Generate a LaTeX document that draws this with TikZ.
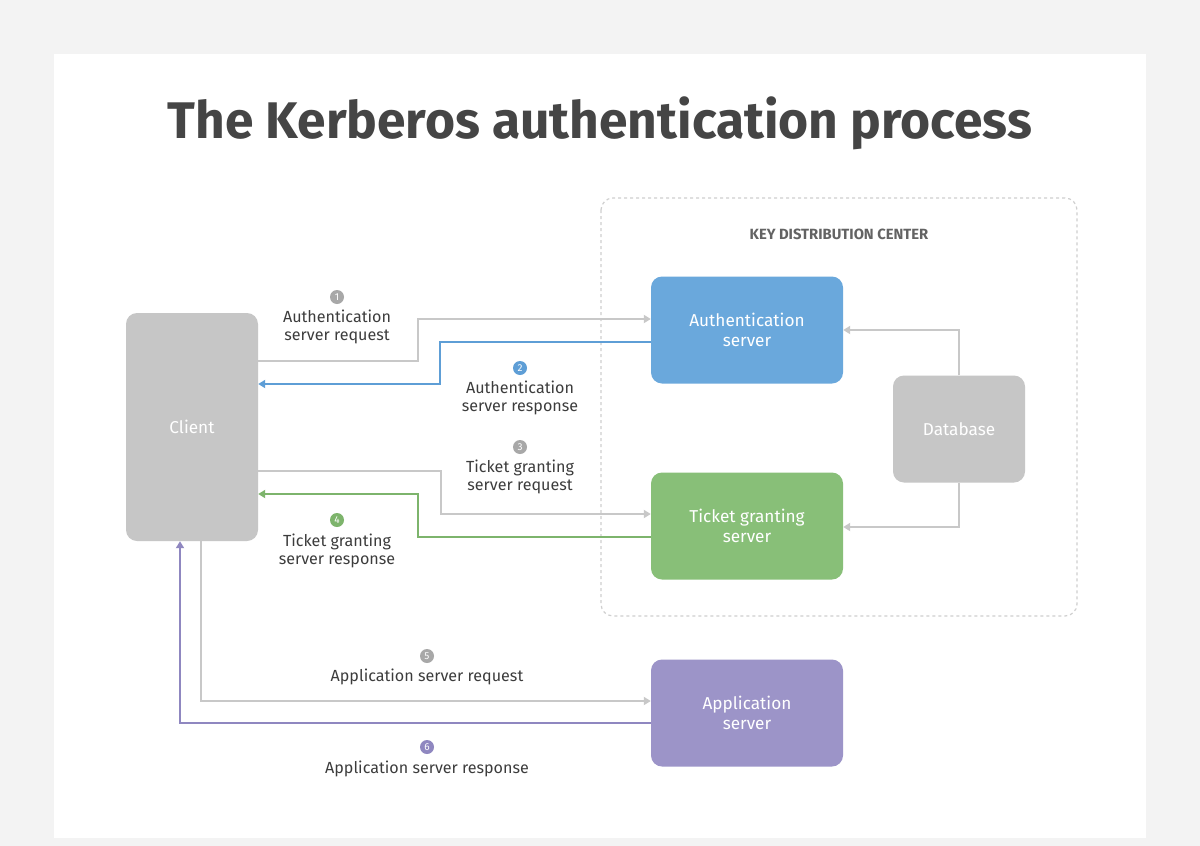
\documentclass[tikz,border=0pt]{standalone}
\usepackage{fontspec}
\setmainfont{Fira Sans}
\usetikzlibrary{arrows.meta}
\definecolor{bgc}{HTML}{F3F3F3}
\definecolor{txt}{HTML}{3C3C3C}
\definecolor{titlec}{HTML}{454545}
\definecolor{grayline}{HTML}{C8C8C8}
\definecolor{graybox}{HTML}{C6C6C6}
\definecolor{bluec}{HTML}{6AA8DC}
\definecolor{greenc}{HTML}{88BF78}
\definecolor{purplec}{HTML}{9C94C8}
\definecolor{blueline}{HTML}{5E9ED6}
\definecolor{greenline}{HTML}{7DB46C}
\definecolor{purpleline}{HTML}{8F87C0}
\definecolor{numgray}{HTML}{A8A8A8}
\definecolor{kdcc}{HTML}{CFCFCF}
\tikzset{
  boxst/.style={rounded corners=11pt, minimum width=192pt, minimum height=107pt, align=center, text=white, font=\fontsize{17.2}{20.5}\selectfont, inner sep=0pt},
  lbl/.style={align=center, text=txt, font=\fontsize{16.1}{18.5}\selectfont, inner sep=0pt},
  num/.style={circle, minimum size=14pt, inner sep=0pt, text=white, font=\fontsize{10}{10}\selectfont},
  conn/.style={line width=1.8pt, -{Triangle[length=7pt,width=8pt]}},
}
\begin{document}
\begin{tikzpicture}[x=1pt,y=-1pt]
\fill[bgc] (0,0) rectangle (1200,846);
\useasboundingbox (0,0) rectangle (1200,846);
\fill[white] (54,54) rectangle (1146,838);
\node[text=titlec, font=\fontsize{51.5}{54}\selectfont\bfseries] (title) at (600,123) {The Kerberos authentication process};
\draw[kdcc, dashed, line width=1.2pt, rounded corners=12pt] (601,198) rectangle (1077,616);
\node[text=txt!80, font=\fontsize{14.8}{16}\selectfont\bfseries] (kdc) at (839,234) {KEY DISTRIBUTION CENTER};
\node[boxst, fill=graybox, minimum width=132pt, minimum height=228pt] (client) at (192,427) {Client};
\node[boxst, fill=bluec] (as) at (747,330) {Authentication\\server};
\node[boxst, fill=greenc] (tgs) at (747,526) {Ticket granting\\server};
\node[boxst, fill=graybox, minimum width=132pt] (db) at (959,429) {Database};
\node[boxst, fill=purplec] (app) at (747,713) {Application\\server};
% 1
\draw[conn, grayline] (client.east |- 0,361) -- (418,361) -- (418,319) -- (as.west |- 0,319);
% 2
\draw[conn, blueline] (as.west |- 0,342) -- (440,342) -- (440,384) -- (client.east |- 0,384);
% 3
\draw[conn, grayline] (client.east |- 0,471) -- (441,471) -- (441,514) -- (tgs.west |- 0,514);
% 4
\draw[conn, greenline] (tgs.west |- 0,537) -- (418,537) -- (418,494) -- (client.east |- 0,494);
% 5
\draw[conn, grayline] (client.south -| 201,0) -- (201,701) -- (app.west |- 0,701);
% 6
\draw[conn, purpleline] (app.west |- 0,723) -- (180,723) -- (client.south -| 180,0);
% db
\draw[conn, grayline] (db.north) -- (959,330) -- (as.east |- 0,330);
\draw[conn, grayline] (db.south) -- (959,527) -- (tgs.east |- 0,527);
% labels
\node[num, fill=numgray] (n1) at (337,297) {1};
\node[lbl] (l1) at (337,327) {Authentication\\server request};
\node[num, fill=blueline] (n2) at (520,368) {2};
\node[lbl] (l2) at (520,398) {Authentication\\server response};
\node[num, fill=numgray] (n3) at (520,447) {3};
\node[lbl] (l3) at (520,477) {Ticket granting\\server request};
\node[num, fill=greenline] (n4) at (337,520) {4};
\node[lbl] (l4) at (337,551) {Ticket granting\\server response};
\node[num, fill=numgray] (n5) at (427,656) {5};
\node[lbl] (l5) at (427,677) {Application server request};
\node[num, fill=purpleline] (n6) at (427,747) {6};
\node[lbl] (l6) at (427,769) {Application server response};
\end{tikzpicture}
\end{document}
